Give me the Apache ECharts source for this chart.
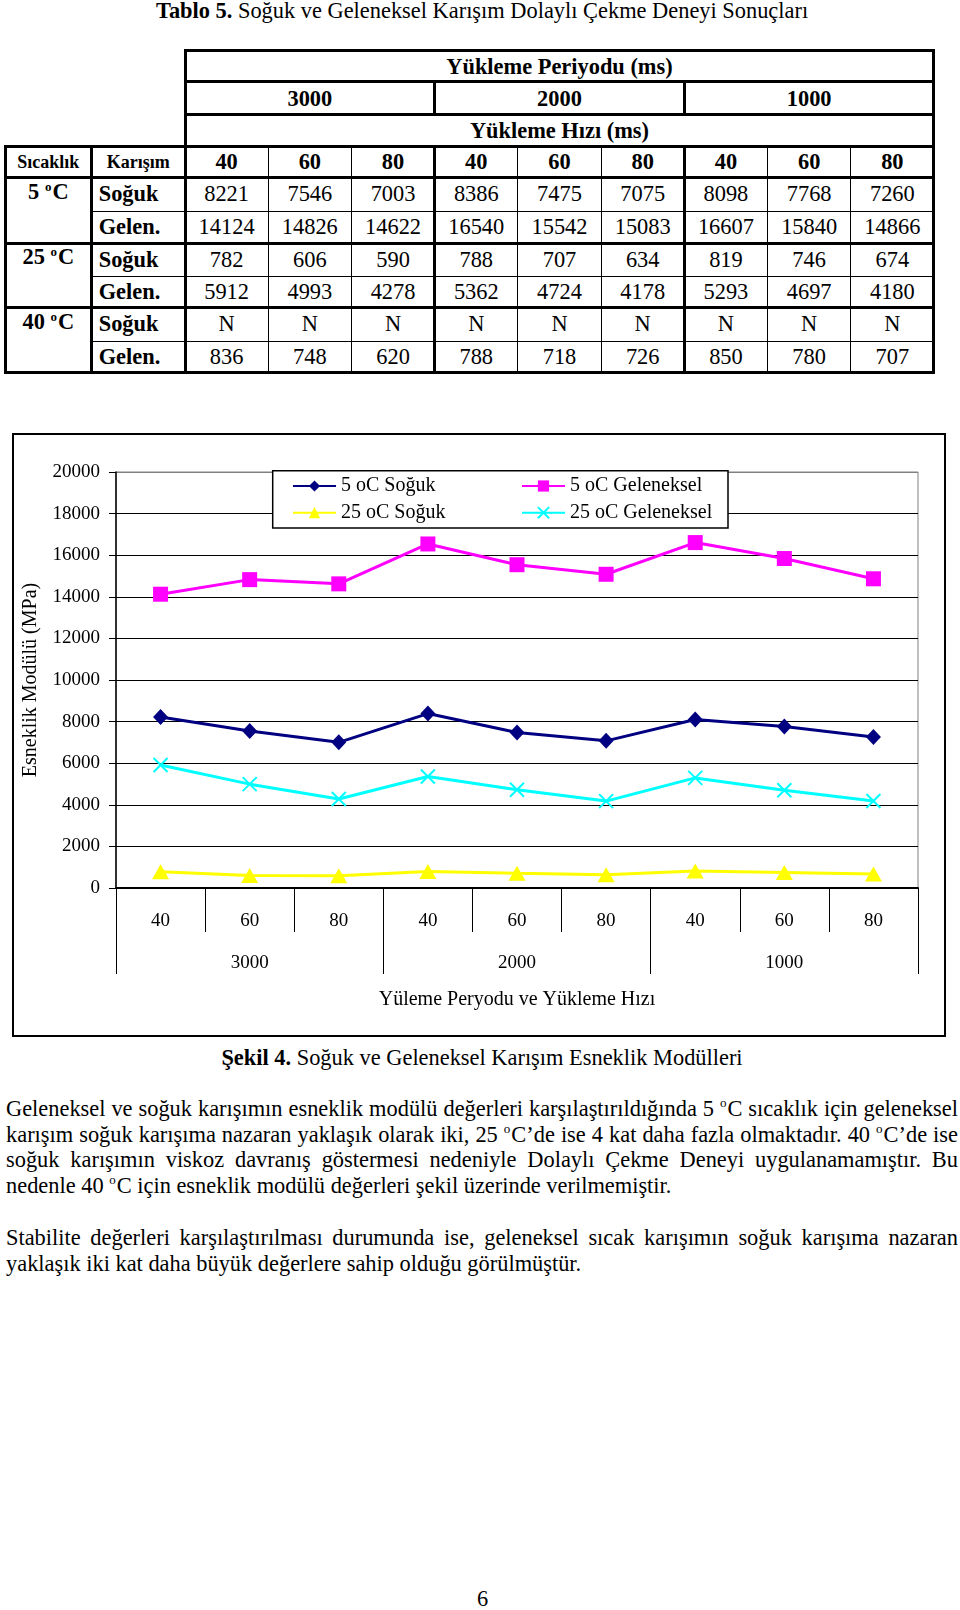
<!DOCTYPE html>
<html>
<head>
<meta charset="utf-8">
<script src="https://cdn.jsdelivr.net/npm/echarts@6/dist/echarts.min.js"></script>
<style>
  html, body { margin:0; padding:0; background:#fff; }
  body { width:960px; height:1610px; position:relative; overflow:hidden; font-family:"Liberation Serif","Times New Roman",serif; color:#000; }
  .abs { position:absolute; }
  .ln { position:absolute; background:#000; }
  .cell { position:absolute; display:flex; align-items:center; justify-content:center; white-space:nowrap; font-size:22.4px; line-height:22px; }
  .b { font-weight:bold; }
  .sup { font-size:13px; position:relative; top:-8px; margin-right:1px; }
  .pl { position:absolute; left:6px; width:952px; font-size:22.4px; line-height:26px; height:26px; white-space:nowrap; }
  .just { text-align:justify; text-align-last:justify; white-space:normal; }
  #chart { position:absolute; left:12px; top:433px; width:934px; height:604px; border:2px solid #000; box-sizing:border-box; }
</style>
</head>
<body>
<div class="abs" style="left:156px;top:0px;font-size:22.4px;line-height:22px;white-space:nowrap;"><b>Tablo 5.</b> Soğuk ve Geleneksel Karışım Dolaylı Çekme Deneyi Sonuçları</div>
<div id="table"></div>
<div id="chart"></div>
<div class="abs" style="left:0;width:964px;top:1045px;font-size:22.4px;line-height:26px;text-align:center;white-space:nowrap;"><b>Şekil 4.</b> Soğuk ve Geleneksel Karışım Esneklik Modülleri</div>
<div id="text"></div>
<div class="abs" style="left:0;width:965px;top:1586px;font-size:22.4px;line-height:26px;text-align:center;">6</div>
<script>
// ---------------- data ----------------
const categories = ['40', '60', '80', '40', '60', '80', '40', '60', '80'];
const periods = ['3000', '2000', '1000'];
const soguk5 = [8221, 7546, 7003, 8386, 7475, 7075, 8098, 7768, 7260];
const gelen5 = [14124, 14826, 14622, 16540, 15542, 15083, 16607, 15840, 14866];
const soguk25 = [782, 606, 590, 788, 707, 634, 819, 746, 674];
const gelen25 = [5912, 4993, 4278, 5362, 4724, 4178, 5293, 4697, 4180];
const soguk40 = ['N', 'N', 'N', 'N', 'N', 'N', 'N', 'N', 'N'];
const gelen40 = [836, 748, 620, 788, 718, 726, 850, 780, 707];
const temps = ['5', '25', '40'];
const seriesNames = ['5 oC Soğuk', '5 oC Geleneksel', '25 oC Soğuk', '25 oC Geleneksel'];
const yMin = 0, yMax = 20000, yStep = 2000;

// ---------------- table ----------------
const T = document.getElementById('table');
function hl(x1, x2, y, w) {
  const d = document.createElement('div'); d.className = 'ln';
  d.style.left = (x1 - w / 2) + 'px'; d.style.width = (x2 - x1 + w) + 'px';
  d.style.top = (y - w / 2) + 'px'; d.style.height = w + 'px'; T.appendChild(d);
}
function vl(x, y1, y2, w) {
  const d = document.createElement('div'); d.className = 'ln';
  d.style.left = (x - w / 2) + 'px'; d.style.width = w + 'px';
  d.style.top = (y1 - w / 2) + 'px'; d.style.height = (y2 - y1 + w) + 'px'; T.appendChild(d);
}
function cell(html, x1, x2, y1, y2, cls, extra) {
  const d = document.createElement('div'); d.className = 'cell ' + (cls || '');
  d.style.left = x1 + 'px'; d.style.width = (x2 - x1) + 'px';
  d.style.top = y1 + 'px'; d.style.height = (y2 - y1) + 'px';
  if (extra) Object.assign(d.style, extra);
  d.innerHTML = html; T.appendChild(d);
}
const cx = []; for (let i = 0; i <= 9; i++) cx.push(185 + i * 83.22);
const X0 = 5, X1 = 91.7, XR = cx[9];
const ry = [50, 81.7, 114, 146, 177, 211.5, 243.3, 276.5, 307, 341.7, 372];
const TH = 3, TN = 1;
hl(cx[0], XR, ry[0], TH); hl(cx[0], XR, ry[1], TH); hl(cx[0], XR, ry[2], TH);
hl(X0, XR, ry[3], TH); hl(X0, XR, ry[4], TH);
hl(X1, XR, ry[5], TN); hl(X0, XR, ry[6], TH);
hl(X1, XR, ry[7], TN); hl(X0, XR, ry[8], TH);
hl(X1, XR, ry[9], TN); hl(X0, XR, ry[10], TH);
vl(X0, ry[3], ry[10], TH); vl(X1, ry[3], ry[10], TH);
vl(cx[0], ry[0], ry[10], TH); vl(XR, ry[0], ry[10], TH);
vl(cx[3], ry[1], ry[2], TH); vl(cx[6], ry[1], ry[2], TH);
for (let i = 1; i < 9; i++) vl(cx[i], ry[3], ry[10], (i % 3 === 0) ? TH : TN);
const pad = {paddingTop: '2px', boxSizing: 'border-box'};
cell('Yükleme Periyodu (ms)', cx[0], XR, ry[0], ry[1], 'b', pad);
periods.forEach((p, g) => cell(p, cx[g * 3], cx[g * 3 + 3], ry[1], ry[2], 'b', pad));
cell('Yükleme Hızı (ms)', cx[0], XR, ry[2], ry[3], 'b', pad);
cell('Sıcaklık', X0, X1, ry[3], ry[4], 'b', {fontSize: '18px'});
cell('Karışım', X1, cx[0], ry[3], ry[4], 'b', {fontSize: '18px'});
categories.forEach((c, i) => cell(c, cx[i], cx[i + 1], ry[3], ry[4], 'b'));
const bodyRows = [[soguk5, gelen5], [soguk25, gelen25], [soguk40, gelen40]];
bodyRows.forEach((pair, g) => {
  const yA = ry[4 + g * 2], yB = ry[5 + g * 2], yC = ry[6 + g * 2];
  cell('<span>' + temps[g] + '&nbsp;<span class="sup">o</span>C</span>', X0, X1, yA - 1, yB - 1, 'b');
  cell('Soğuk', X1 + 7, cx[0], yA, yB, 'b', {justifyContent: 'flex-start'});
  cell('Gelen.', X1 + 7, cx[0], yB, yC, 'b', {justifyContent: 'flex-start'});
  pair[0].forEach((v, i) => cell(String(v), cx[i], cx[i + 1], yA, yB, ''));
  pair[1].forEach((v, i) => cell(String(v), cx[i], cx[i + 1], yB, yC, ''));
});

// ---------------- paragraphs ----------------
const S = '<span class="sup" style="font-size:13px;top:-9px;">o</span>';
const lines = [
  [1096, 'Geleneksel ve soğuk karışımın esneklik modülü değerleri karşılaştırıldığında 5 ' + S + 'C sıcaklık için geleneksel', true],
  [1121.7, 'karışım soğuk karışıma nazaran yaklaşık olarak iki, 25 ' + S + 'C’de ise 4 kat daha fazla olmaktadır. 40 ' + S + 'C’de ise', true],
  [1147.4, 'soğuk karışımın viskoz davranış göstermesi nedeniyle Dolaylı Çekme Deneyi uygulanamamıştır. Bu', true],
  [1173.1, 'nedenle 40 ' + S + 'C için esneklik modülü değerleri şekil üzerinde verilmemiştir.', false],
  [1225, 'Stabilite değerleri karşılaştırılması durumunda ise, geleneksel sıcak karışımın soğuk karışıma nazaran', true],
  [1250.7, 'yaklaşık iki kat daha büyük değerlere sahip olduğu görülmüştür.', false]
];
const TX = document.getElementById('text');
lines.forEach(l => {
  const d = document.createElement('div'); d.className = 'pl' + (l[2] ? ' just' : '');
  d.style.top = l[0] + 'px'; d.innerHTML = l[1]; TX.appendChild(d);
});

// ---------------- chart ----------------
const chart = echarts.init(document.getElementById('chart'), null, {renderer: 'canvas'});
const FONT = 'Liberation Serif';
const nTicks = (yMax - yMin) / yStep + 1;
const splitColors = [];
for (let i = 0; i < nTicks; i++) splitColors.push(i === nTicks - 1 ? '#808080' : '#000000');
const xSym = 'path://M0,0L10,10M0,10L10,0';
chart.setOption({
  animation: false,
  backgroundColor: '#fff',
  grid: {left: 102, top: 37, width: 802, height: 416, containLabel: false, outerBoundsMode: 'none',
         show: true, borderColor: '#808080', borderWidth: 1, backgroundColor: 'transparent'},
  legend: [
    {data: [seriesNames[0], seriesNames[2]], orient: 'vertical', left: 278, top: 41, padding: 0, itemGap: 6.7,
     itemWidth: 43, itemHeight: 14, textStyle: {fontFamily: FONT, fontSize: 20, lineHeight: 20, color: '#000'}},
    {data: [seriesNames[1], seriesNames[3]], orient: 'vertical', left: 507, top: 41, padding: 0, itemGap: 6.7,
     itemWidth: 43, itemHeight: 14, textStyle: {fontFamily: FONT, fontSize: 20, lineHeight: 20, color: '#000'}}
  ],
  graphic: [{type: 'rect', z: 3, shape: {x: 258.7, y: 35.7, width: 455.3, height: 57.3},
             style: {fill: '#fff', stroke: '#000', lineWidth: 1.5}}],
  xAxis: [
    {type: 'category', data: categories, boundaryGap: true, position: 'bottom',
     axisLine: {show: true, lineStyle: {color: '#000', width: 2}},
     axisTick: {show: true, interval: 0, length: 44, lineStyle: {color: '#000', width: 1}},
     axisLabel: {interval: 0, margin: 24, fontFamily: FONT, fontSize: 19, color: '#000'},
     splitLine: {show: false}},
    {type: 'category', data: periods, boundaryGap: true, position: 'bottom', offset: 0,
     axisLine: {show: false},
     axisTick: {show: true, interval: 0, length: 86, lineStyle: {color: '#000', width: 1}},
     axisLabel: {interval: 0, margin: 66, fontFamily: FONT, fontSize: 19, color: '#000'},
     splitLine: {show: false},
     name: 'Yüleme Peryodu ve Yükleme Hızı', nameLocation: 'middle', nameGap: 102,
     nameTextStyle: {fontFamily: FONT, fontSize: 20, color: '#000'}}
  ],
  yAxis: {type: 'value', min: yMin, max: yMax, interval: yStep,
    axisLine: {show: true, lineStyle: {color: '#000', width: 1.5}},
    axisTick: {show: true, length: 7, lineStyle: {color: '#000', width: 1}},
    axisLabel: {margin: 16, fontFamily: FONT, fontSize: 19, color: '#000', formatter: v => String(v)},
    splitLine: {show: true, lineStyle: {color: splitColors, width: 1.2}},
    name: 'Esneklik Modülü (MPa)', nameLocation: 'middle', nameGap: 75,
    nameTextStyle: {fontFamily: FONT, fontSize: 20, color: '#000'}},
  series: [
    {name: seriesNames[0], type: 'line', data: soguk5, symbol: 'diamond', symbolSize: [15, 16],
     lineStyle: {color: '#000080', width: 3}, itemStyle: {color: '#000080'}, z: 5},
    {name: seriesNames[1], type: 'line', data: gelen5, symbol: 'rect', symbolSize: 15,
     lineStyle: {color: '#FF00FF', width: 3}, itemStyle: {color: '#FF00FF'}, z: 5},
    {name: seriesNames[2], type: 'line', data: soguk25, symbol: 'triangle', symbolSize: [17, 15],
     lineStyle: {color: '#FFFF00', width: 3}, itemStyle: {color: '#FFFF00'}, z: 5},
    {name: seriesNames[3], type: 'line', data: gelen25, symbol: xSym, symbolSize: 14,
     lineStyle: {color: '#00FFFF', width: 3}, itemStyle: {color: '#00FFFF', borderColor: '#00FFFF', borderWidth: 2}, z: 5}
  ]
});
</script>
</body>
</html>
